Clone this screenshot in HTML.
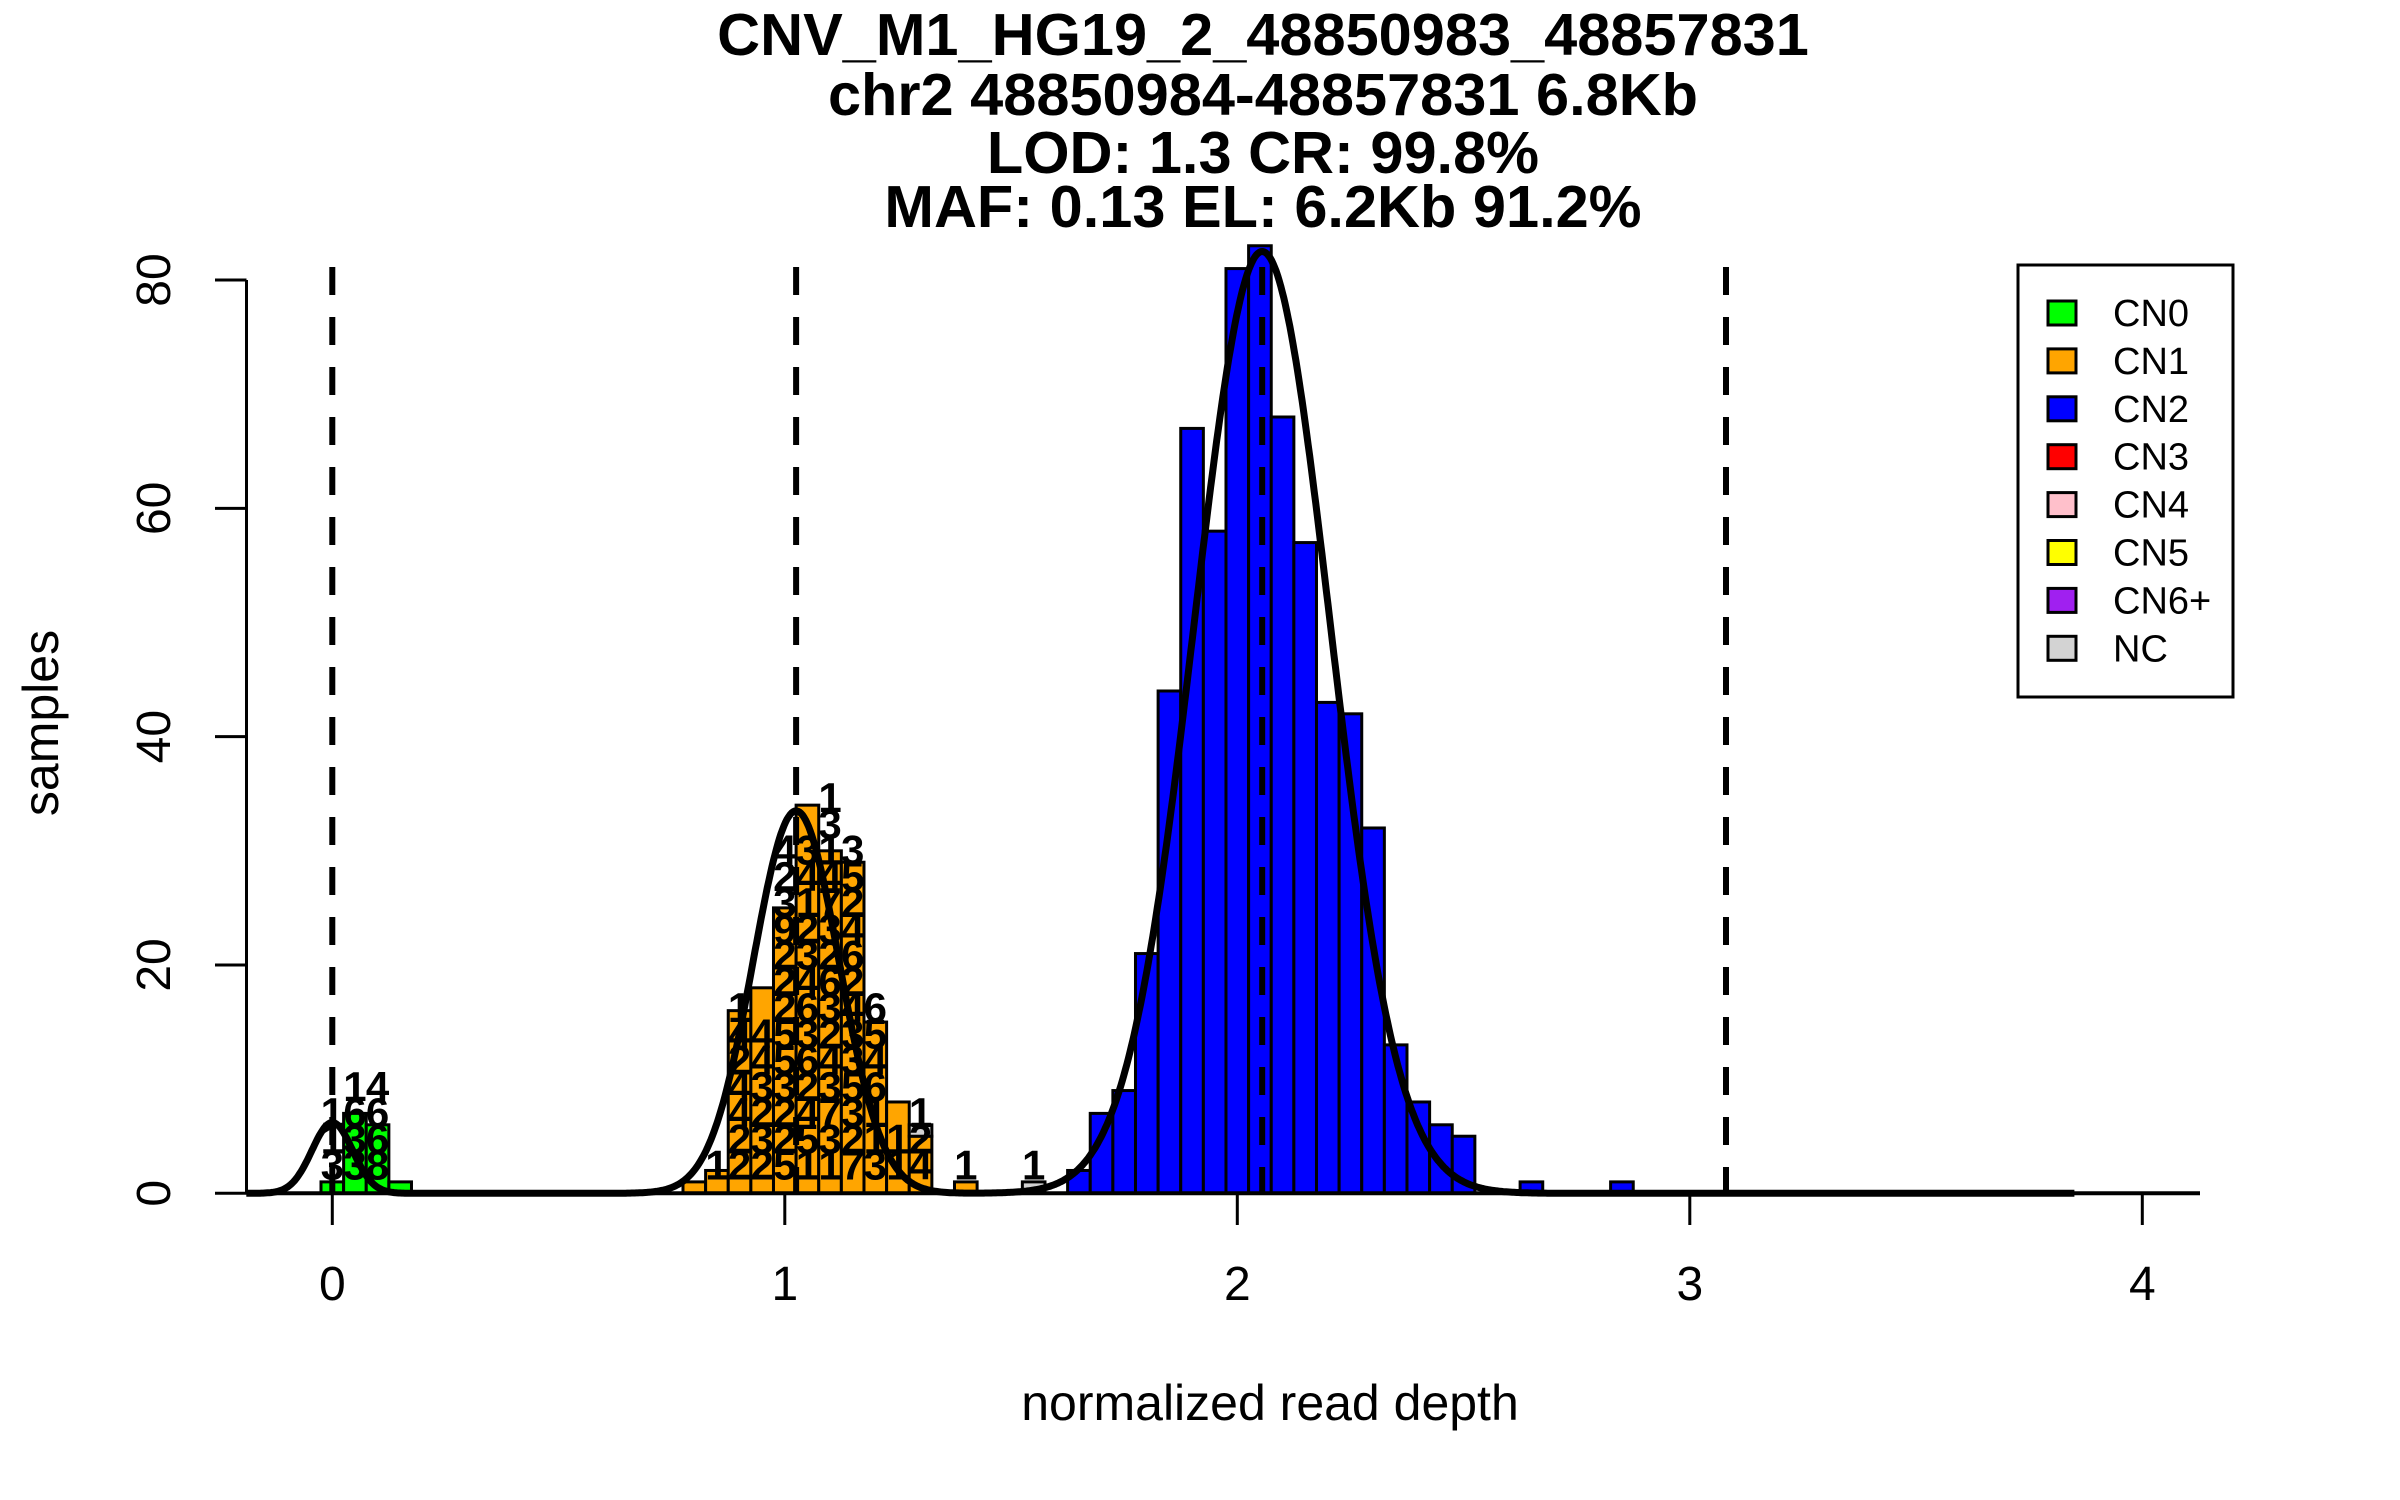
<!DOCTYPE html>
<html><head><meta charset="utf-8"><style>
html,body{margin:0;padding:0;background:#fff;}
svg{display:block;font-family:"Liberation Sans",Arial,sans-serif;}
</style></head><body>
<svg id="chart" width="2400" height="1500" viewBox="0 0 2400 1500" xmlns="http://www.w3.org/2000/svg">
<rect width="2400" height="1500" fill="#fff"/>
<g font-weight="bold" font-size="59.5" text-anchor="middle" fill="#000">
<text x="1263" y="55">CNV_M1_HG19_2_48850983_48857831</text>
<text x="1263" y="115">chr2 48850984-48857831 6.8Kb</text>
<text x="1263" y="173">LOD: 1.3 CR: 99.8%</text>
<text x="1263" y="227">MAF: 0.13 EL: 6.2Kb 91.2%</text>
</g>
<g id="bars"></g>
<g id="barlabels" font-weight="bold" font-size="42" text-anchor="middle" fill="#000"></g>
<g id="curve"></g>
<g id="dashes"></g>
<g id="axes"></g>
<text x="1270" y="1420" font-size="50" text-anchor="middle">normalized read depth</text>
<text x="0" y="0" font-size="50" text-anchor="middle" transform="translate(58,723) rotate(-90)">samples</text>
<g id="legend"></g>
</svg>
<script>
// ---- data ----
const binWidth = 0.05;
const cn0Starts = [-0.025, 0.025, 0.075, 0.125];
const cn0Counts = [1, 7, 6, 1];
const cn1Starts = [0.775, 0.825, 0.875, 0.925, 0.975, 1.025, 1.075, 1.125, 1.175, 1.225, 1.275, 1.375];
const cn1Counts = [1, 2, 16, 18, 25, 34, 30, 29, 15, 8, 5, 1];
const ncStarts = [1.275, 1.525];
const ncBase = [5, 0];
const ncCounts = [1, 1];
const cn2Starts = [1.625,1.675,1.725,1.775,1.825,1.875,1.925,1.975,2.025,2.075,2.125,2.175,2.225,2.275,2.325,2.375,2.425,2.475,2.625,2.825];
const cn2Counts = [2,7,9,21,44,67,58,81,83,68,57,43,42,32,13,8,6,5,1,1];
const digitBins = [-0.025, 0.025, 0.075, 0.825, 0.875, 0.925, 0.975, 1.025, 1.075, 1.125, 1.175, 1.225, 1.275, 1.375, 1.525];
const digitStrings = ["3 1 1","3 3 6 1","8 6 6 4","1","2 2 4 4 2 4 1","2 3 2 3 4 4","5 2 2 3 5 5 2 2 2 9 3 2 4","1 5 4 2 6 3 6 4 3 2 1 4 3","1 3 7 3 4 2 3 6 2 3 7 4 1 3 1","7 2 3 5 3 3 4 2 6 4 2 5 3","3 1 1 6 4 5 6","1 1","4 2 1","1","1"];
const curveAmps = [6.2, 33.5, 82.5];
const curveMeans = [0.0, 1.025, 2.055];
const curveSds = [0.045, 0.095, 0.15];
const curveRange = [-0.19, 3.85];
const cutoffs = [0.0, 1.025, 2.055, 3.08];
const xTicks = [0, 1, 2, 3, 4];
const yTicks = [0, 20, 40, 60, 80];
const legendLabels = ["CN0","CN1","CN2","CN3","CN4","CN5","CN6+","NC"];
const legendColors = ["#00ff00","#ffa500","#0000ff","#ff0000","#ffc0cb","#ffff00","#a020f0","#d3d3d3"];

// ---- scales ----
const X0 = 332.3, XU = 452.5, Y0 = 1193.3, YU = (1193.3 - 280) / 80;
function sx(v){ return X0 + v * XU; }
function sy(v){ return Y0 - v * YU; }
const NS = "http://www.w3.org/2000/svg";
function mk(tag, attrs, parent){ const e = document.createElementNS(NS, tag); for (const k in attrs) e.setAttribute(k, attrs[k]); parent.appendChild(e); return e; }

const barsG = document.getElementById('bars');
function drawBars(starts, counts, bases, color, name){
  starts.forEach((s, i) => {
    const b = bases ? bases[i] : 0;
    const r = mk('rect', {x: sx(s), y: sy(b + counts[i]), width: sx(s + binWidth) - sx(s), height: sy(b) - sy(b + counts[i]), fill: color, stroke: '#000', 'stroke-width': 3}, barsG);
    
    
  });
}
drawBars(cn0Starts, cn0Counts, null, '#00ff00', 'cn0');
drawBars(cn1Starts, cn1Counts, null, '#ffa500', 'cn1');
drawBars(ncStarts, ncCounts, ncBase, '#d3d3d3', 'nc');
drawBars(cn2Starts, cn2Counts, null, '#0000ff', 'cn2');

// digit labels
const lblG = document.getElementById('barlabels');
digitBins.forEach((s, i) => {
  const ds = digitStrings[i].split(' ');
  ds.forEach((d, j) => {
    const t = mk('text', {x: sx(s + binWidth / 2), y: sy(1.2 + j * 2.3)}, lblG);
    t.textContent = d;
    
    
  });
});

// density curve
function dens(x){ let y = 0; for (let k = 0; k < curveAmps.length; k++){ const z = (x - curveMeans[k]) / curveSds[k]; y += curveAmps[k] * Math.exp(-0.5 * z * z); } return y; }
let d = '';
for (let i = 0; i <= 1200; i++){ const x = curveRange[0] + (curveRange[1] - curveRange[0]) * i / 1200; d += (i ? 'L' : 'M') + sx(x).toFixed(1) + ',' + sy(dens(x)).toFixed(1); }
const cp = mk('path', {d: d, fill: 'none', stroke: '#000', 'stroke-width': 7, 'stroke-linejoin': 'round'}, document.getElementById('curve'));



// cutoff dashed lines
const dg = document.getElementById('dashes');
cutoffs.forEach(c => {
  const l = mk('line', {x1: sx(c), x2: sx(c), y1: 267, y2: Y0, stroke: '#000', 'stroke-width': 6, 'stroke-dasharray': '28 22'}, dg);
  
  
});

// axes
const ax = document.getElementById('axes');
const base = mk('line', {x1: 247, x2: 2200, y1: Y0, y2: Y0, stroke: '#000', 'stroke-width': 4}, ax);


xTicks.forEach(v => {
  const t = mk('line', {x1: sx(v), x2: sx(v), y1: Y0, y2: 1225, stroke: '#000', 'stroke-width': 3}, ax);
  
  
  const lb = mk('text', {x: sx(v), y: 1300, 'font-size': 48, 'text-anchor': 'middle'}, ax);
  lb.textContent = v;
  
  
});
const yl = mk('line', {x1: 246.5, x2: 246.5, y1: sy(0), y2: sy(80), stroke: '#000', 'stroke-width': 3}, ax);


yTicks.forEach(v => {
  const t = mk('line', {x1: 215, x2: 246.5, y1: sy(v), y2: sy(v), stroke: '#000', 'stroke-width': 3}, ax);
  
  
  const lb = mk('text', {x: 0, y: 0, 'font-size': 48, 'text-anchor': 'middle', transform: 'translate(170,' + sy(v) + ') rotate(-90)'}, ax);
  lb.textContent = v;
  
  
});

// legend
const lg = document.getElementById('legend');
const box = mk('rect', {x: 2018, y: 265, width: 215, height: 432, fill: '#fff', stroke: '#000', 'stroke-width': 3}, lg);


legendLabels.forEach((lab, i) => {
  const cy = 313 + i * 47.9;
  const sq = mk('rect', {x: 2048, y: cy - 12, width: 28, height: 24, fill: legendColors[i], stroke: '#000', 'stroke-width': 3}, lg);
  
  
  const t = mk('text', {x: 2113, y: cy + 13, 'font-size': 38}, lg);
  t.textContent = lab;
  
  
});
</script>
</body></html>
